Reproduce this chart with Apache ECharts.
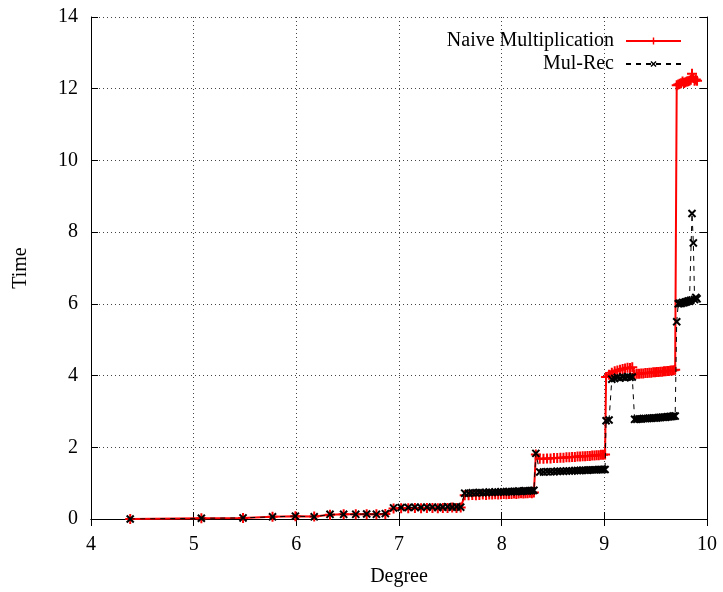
<!DOCTYPE html>
<html>
<head>
<meta charset="utf-8">
<script src="https://cdn.jsdelivr.net/npm/echarts@6/dist/echarts.min.js"></script>
<style>
  html, body { margin: 0; padding: 0; background: #fff; }
  #chart { width: 723px; height: 592px; }
</style>
</head>
<body>
<div id="chart"></div>
<script>
// x values (Degree), shared by both series
const degree = [
  4.382, 5.075, 5.481, 5.768, 5.991, 6.174, 6.328, 6.461, 6.579, 6.685, 6.780, 6.867, 6.947,
  7.021, 7.090, 7.155, 7.215, 7.272, 7.326, 7.378, 7.427, 7.473, 7.518, 7.560, 7.601,
  7.640, 7.678, 7.714, 7.749, 7.783, 7.816, 7.848, 7.879, 7.908, 7.937, 7.966, 7.993, 8.020,
  8.046, 8.071, 8.096, 8.120, 8.143, 8.166, 8.189, 8.211, 8.232, 8.253, 8.274, 8.294, 8.314,
  8.333,
  8.371, 8.407, 8.442, 8.476, 8.509, 8.541, 8.572, 8.602, 8.631, 8.659, 8.686, 8.713, 8.739,
  8.764, 8.789, 8.813, 8.836, 8.859, 8.882, 8.904, 8.925, 8.946, 8.967, 8.987, 9.007,
  9.017, 9.046, 9.073, 9.101, 9.127, 9.153, 9.178, 9.202, 9.226, 9.250, 9.272,
  9.295,
  9.317, 9.338, 9.359, 9.379, 9.399, 9.419, 9.438, 9.457, 9.476, 9.494, 9.512, 9.530, 9.547,
  9.564, 9.581, 9.597, 9.613, 9.629, 9.645, 9.660, 9.675, 9.690,
  9.705, 9.720, 9.734, 9.748, 9.762, 9.776, 9.789, 9.803, 9.816, 9.829, 9.842, 9.854, 9.867,
  9.879, 9.891, 9.903
];

// Naive Multiplication
const naiveTime = [
  0.00, 0.02, 0.03, 0.06, 0.08, 0.07, 0.12, 0.13, 0.13, 0.13, 0.13, 0.14, 0.29,
  0.30, 0.30, 0.31, 0.30, 0.31, 0.31, 0.30, 0.31, 0.31, 0.32, 0.31, 0.32,
  0.66, 0.66, 0.67, 0.66, 0.67, 0.68, 0.67, 0.68, 0.68, 0.69, 0.68, 0.69, 0.70,
  0.69, 0.70, 0.70, 0.71, 0.70, 0.71, 0.72, 0.71, 0.72, 0.72, 0.73, 0.72, 0.74,
  1.80,
  1.68, 1.68, 1.69, 1.69, 1.70, 1.70, 1.71, 1.71, 1.72, 1.72, 1.73, 1.73, 1.74,
  1.74, 1.75, 1.75, 1.76, 1.76, 1.77, 1.77, 1.78, 1.78, 1.79, 1.79, 1.80,
  3.96, 4.02, 4.08, 4.12, 4.14, 4.16, 4.18, 4.20, 4.22, 4.21, 4.23,
  4.04,
  4.05, 4.05, 4.06, 4.06, 4.07, 4.07, 4.08, 4.08, 4.09, 4.09, 4.10, 4.10, 4.11,
  4.11, 4.12, 4.12, 4.13, 4.13, 4.14, 4.14, 4.15, 4.16,
  12.10, 12.12, 12.14, 12.15, 12.20, 12.16, 12.18, 12.20, 12.21, 12.22, 12.25, 12.42, 12.30,
  12.22, 12.26, 12.22
];

// Mul-Rec
const mulRecTime = [
  0.00, 0.02, 0.03, 0.06, 0.08, 0.06, 0.13, 0.13, 0.13, 0.14, 0.13, 0.15, 0.31,
  0.32, 0.32, 0.33, 0.32, 0.33, 0.33, 0.32, 0.33, 0.34, 0.33, 0.34, 0.33,
  0.72, 0.72, 0.73, 0.73, 0.74, 0.73, 0.74, 0.75, 0.74, 0.75, 0.75, 0.76, 0.75,
  0.76, 0.77, 0.76, 0.77, 0.77, 0.78, 0.77, 0.78, 0.79, 0.78, 0.79, 0.79, 0.80,
  1.83,
  1.31, 1.31, 1.32, 1.32, 1.32, 1.33, 1.33, 1.33, 1.34, 1.34, 1.34, 1.35, 1.35,
  1.35, 1.36, 1.36, 1.36, 1.37, 1.37, 1.37, 1.37, 1.38, 1.38, 1.38, 1.38,
  2.74, 2.76, 3.90, 3.92, 3.95, 3.93, 3.96, 3.94, 3.97, 3.95, 3.96,
  2.78,
  2.78, 2.79, 2.79, 2.80, 2.80, 2.80, 2.81, 2.81, 2.82, 2.82, 2.82, 2.83, 2.83,
  2.84, 2.84, 2.84, 2.85, 2.85, 2.86, 2.86, 2.87, 2.87,
  5.50, 6.00, 6.02, 6.01, 6.04, 6.03, 6.05, 6.06, 6.08, 6.07, 6.10, 8.52, 7.70,
  6.12, 6.18, 6.14
];

const xRange = [4, 10];
const yRange = [0, 14];

const FONT = "'Liberation Serif', 'Times New Roman', serif";
const PLUS = "path://M4,0H6V4H10V6H6V10H4V6H0V4H4Z";

const chart = echarts.init(document.getElementById("chart"), null, { renderer: "canvas" });

const zip = (ys) => degree.map((x, i) => [x, ys[i]]);

// mirrored axis (top / right) with ticks only, gnuplot style
const mirror = {
  show: true,
  axisLine: { show: true, lineStyle: { color: "#000", width: 1 } },
  axisTick: { show: true, inside: true, length: 7, lineStyle: { color: "#000" } },
  axisLabel: { show: false },
  splitLine: { show: false },
};

const legendBase = {
  orient: "horizontal",
  align: "right",
  right: 36,
  itemWidth: 55,
  itemHeight: 9,
  textStyle: { fontFamily: FONT, fontSize: 20, color: "#000", padding: [0, 7, 0, 0] },
};

const option = {
  animation: false,
  backgroundColor: "#fff",
  grid: { left: 91, right: 16, top: 17, bottom: 72 },
  legend: [
    Object.assign({}, legendBase, { top: 26, data: ["Naive Multiplication"] }),
    Object.assign({}, legendBase, { top: 49, data: ["Mul-Rec"] }),
  ],
  xAxis: [
    {
      type: "value",
      min: xRange[0],
      max: xRange[1],
      interval: 1,
      name: "Degree",
      nameLocation: "middle",
      nameGap: 48,
      nameTextStyle: { fontFamily: FONT, fontSize: 20, color: "#000" },
      axisLine: { show: true, lineStyle: { color: "#000", width: 1 } },
      axisTick: { show: true, inside: true, length: 7, lineStyle: { color: "#000" } },
      axisLabel: { fontFamily: FONT, fontSize: 20, color: "#000", margin: 16 },
      splitLine: { show: true, lineStyle: { color: "#444", type: [1, 3], width: 1 } },
    },
    Object.assign({ type: "value", position: "top", min: xRange[0], max: xRange[1], interval: 1 }, mirror),
  ],
  yAxis: [
    {
      type: "value",
      min: yRange[0],
      max: yRange[1],
      interval: 2,
      name: "Time",
      nameLocation: "middle",
      nameGap: 60,
      nameRotate: 90,
      nameTextStyle: { fontFamily: FONT, fontSize: 20, color: "#000" },
      axisLine: { show: true, lineStyle: { color: "#000", width: 1 } },
      axisTick: { show: true, inside: true, length: 7, lineStyle: { color: "#000" } },
      axisLabel: { fontFamily: FONT, fontSize: 20, color: "#000", margin: 13 },
      splitLine: { show: true, lineStyle: { color: "#444", type: [1, 3], width: 1 } },
    },
    Object.assign({ type: "value", position: "right", min: yRange[0], max: yRange[1], interval: 2 }, mirror),
  ],
  series: [
    {
      name: "Naive Multiplication",
      type: "line",
      data: zip(naiveTime),
      symbol: PLUS,
      symbolSize: 10,
      showAllSymbol: true,
      lineStyle: { color: "#ff0000", width: 2 },
      itemStyle: { color: "#ff0000" },
      z: 2,
    },
    {
      name: "Mul-Rec",
      type: "line",
      data: zip(mulRecTime),
      symbol: PLUS,
      symbolRotate: 45,
      symbolSize: 10,
      showAllSymbol: true,
      lineStyle: { color: "#000", width: 1, type: [5, 5] },
      itemStyle: { color: "#000" },
      z: 3,
    },
  ],
};

chart.setOption(option);
</script>
</body>
</html>
